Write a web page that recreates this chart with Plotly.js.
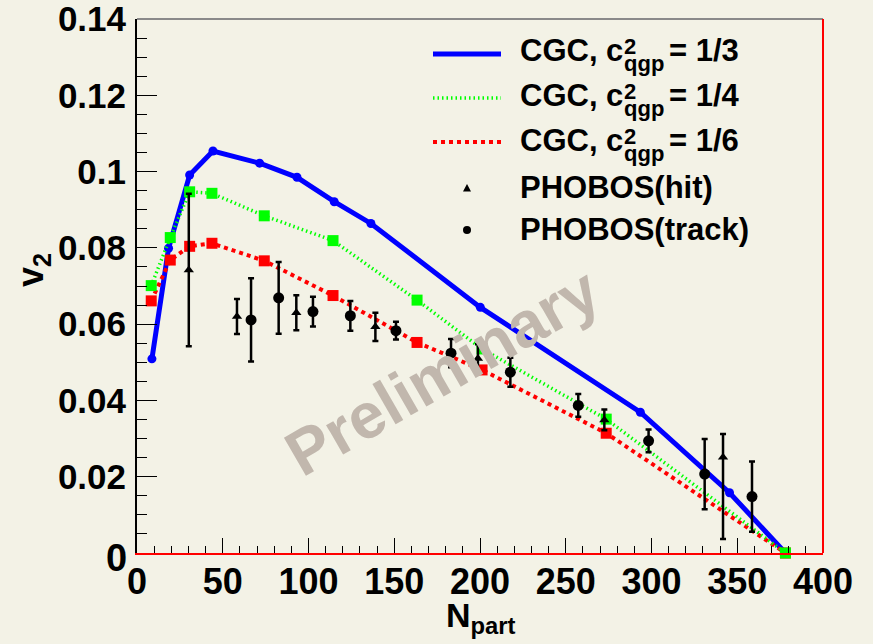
<!DOCTYPE html>
<html>
<head>
<meta charset="utf-8">
<script src="https://cdn.plot.ly/plotly-3.0.1.min.js"></script>
<style>
  html, body { margin: 0; padding: 0; background: #f3f2e6; }
  #chart { width: 873px; height: 644px; }
</style>
</head>
<body>
<div id="chart"></div>
<script>
// CGC hydro curves: elliptic flow v2 vs number of participants
const nThird   = [8.7, 18.4, 30.7, 44.3, 71.5, 93.3, 115, 136.4, 200.2, 293.5, 345.5, 378.1];
const v2Third  = [0.0509, 0.0799, 0.0991, 0.1054, 0.1022, 0.0985, 0.0921, 0.0864, 0.0644, 0.0369, 0.0158, 0];

const nQuarter  = [8.3, 19.4, 30.7, 43.7, 74.2, 114.3, 163.3, 201.2, 273.6, 378.1];
const v2Quarter = [0.0701, 0.0827, 0.0947, 0.0943, 0.0884, 0.0819, 0.0663, 0.0535, 0.0351, 0];

const nSixth   = [8.3, 19.4, 30.7, 43.7, 74.2, 114.3, 163.3, 201.2, 273.6, 378.1];
const v2Sixth  = [0.0661, 0.0768, 0.0804, 0.0812, 0.0766, 0.0675, 0.0552, 0.0480, 0.0314, 0];

// PHOBOS measurements
const nHit       = [30.2, 58.3, 92.9, 139, 198.8, 272.5, 341.7];
const v2Hit      = [0.0742, 0.0620, 0.0630, 0.0593, 0.0510, 0.0349, 0.0251];
const errHitUp   = [0.0200, 0.0046, 0.0046, 0.0037, 0.0037, 0.0027, 0.0061];
const errHitDown = [0.0200, 0.0046, 0.0046, 0.0037, 0.0037, 0.0027, 0.0214];

const nTrack   = [66.5, 82.6, 102.6, 124.4, 151, 183.1, 217.7, 257.3, 298.3, 331, 358.6];
const v2Track  = [0.0611, 0.0669, 0.0633, 0.0622, 0.0583, 0.0524, 0.0474, 0.0387, 0.0294, 0.0207, 0.0148];
const errTrack = [0.0109, 0.0094, 0.0039, 0.0039, 0.0023, 0.0037, 0.0038, 0.0030, 0.0030, 0.0092, 0.0092];

// Axis ticks
const xTickVals = [0, 50, 100, 150, 200, 250, 300, 350, 400];
const xTickText = ['0', '50', '100', '150', '200', '250', '300', '350', '400'];
const yTickVals = [0, 0.02, 0.04, 0.06, 0.08, 0.1, 0.12, 0.14];
const yTickText = ['0', '0.02', '0.04', '0.06', '0.08', '0.1', '0.12', '0.14'];

// Legend entries
const legendLabels = ['CGC, c', 'CGC, c', 'CGC, c', 'PHOBOS(hit)', 'PHOBOS(track)'];
const legendSup = ['2', '2', '2'];
const legendSub = ['qgp', 'qgp', 'qgp'];
const legendTail = ['= 1/3', '= 1/4', '= 1/6'];

const BG = '#f3f2e6';
const FONT = 'Liberation Sans, Arial, Helvetica, sans-serif';

// plot frame in pixels
const W = 873, H = 644;
const L = 137, R = 823, T = 19, B = 553;
const px = x => (x - L) / (R - L);
const py = y => (B - y) / (B - T);

const traces = [
  {
    x: nThird, y: v2Third, mode: 'lines+markers', type: 'scatter',
    line: {color: '#0000ff', width: 5},
    marker: {color: '#0000ff', size: 9, symbol: 'circle'},
    cliponaxis: false, showlegend: false
  },
  {
    x: nSixth, y: v2Sixth, mode: 'lines+markers', type: 'scatter',
    line: {color: '#ff0000', width: 4, dash: '4px,4px'},
    marker: {color: '#ff0000', size: 11, symbol: 'square'},
    cliponaxis: false, showlegend: false
  },
  {
    x: nQuarter, y: v2Quarter, mode: 'lines+markers', type: 'scatter',
    line: {color: '#00ff00', width: 3.5, dash: '1.5px,3px'},
    marker: {color: '#00ff00', size: 11, symbol: 'square'},
    cliponaxis: false, showlegend: false
  },
  {
    x: nHit, y: v2Hit, mode: 'markers', type: 'scatter',
    marker: {color: '#000', size: 9, symbol: 'triangle-up'},
    error_y: {type: 'data', symmetric: false, array: errHitUp, arrayminus: errHitDown,
              color: '#000', thickness: 2.5, width: 3},
    showlegend: false
  },
  {
    x: nTrack, y: v2Track, mode: 'markers', type: 'scatter',
    marker: {color: '#000', size: 11, symbol: 'circle'},
    error_y: {type: 'data', array: errTrack, color: '#000', thickness: 2.5, width: 3},
    showlegend: false
  }
];

const annotations = [];
const shapes = [];

// frame: top edge and right edge
shapes.push({type: 'line', xref: 'paper', yref: 'paper', x0: 0, x1: 1, y0: 1, y1: 1,
             line: {color: '#8a8a8a', width: 2}});
shapes.push({type: 'line', xref: 'paper', yref: 'paper', x0: 1, x1: 1, y0: 0, y1: 1,
             line: {color: '#ff0000', width: 2}});

// watermark
annotations.push({
  xref: 'paper', yref: 'paper', x: px(442), y: py(372),
  xanchor: 'center', yanchor: 'middle',
  text: 'Preliminary', showarrow: false, textangle: -30,
  font: {family: FONT, size: 64, color: '#c1b7ad', weight: 700}
});

// axis titles
annotations.push({
  xref: 'paper', yref: 'paper', x: px(33), y: py(270),
  xanchor: 'center', yanchor: 'middle',
  text: 'v<sub>2</sub>', showarrow: false, textangle: -90,
  font: {family: FONT, size: 36, color: '#000', weight: 700}
});
annotations.push({
  xref: 'paper', yref: 'paper', x: px(481), y: py(617),
  xanchor: 'center', yanchor: 'middle',
  text: 'N<sub>part</sub>', showarrow: false,
  font: {family: FONT, size: 34, color: '#000', weight: 700}
});

// larger zero label at the origin of the v2 axis
annotations.push({
  xref: 'paper', yref: 'paper', x: px(129), y: py(558),
  xanchor: 'right', yanchor: 'middle',
  text: yTickText[0], showarrow: false,
  font: {family: FONT, size: 38, color: '#000', weight: 700}
});

// legend
const rowY = [50, 95, 140, 187, 230];
const lineY = [54, 98, 142];
const lineStyles = [
  {color: '#0000ff', width: 5, dash: 'solid'},
  {color: '#00ff00', width: 3.5, dash: '1.5px,3px'},
  {color: '#ff0000', width: 4, dash: '4px,4px'}
];
const textFont = {family: FONT, size: 31, color: '#000', weight: 700};
const smallFont = {family: FONT, size: 22, color: '#000', weight: 700};
for (let i = 0; i < 3; i++) {
  shapes.push({type: 'line', xref: 'paper', yref: 'paper',
               x0: px(433), x1: px(501), y0: py(lineY[i]), y1: py(lineY[i]),
               line: lineStyles[i]});
  annotations.push({xref: 'paper', yref: 'paper', x: px(518), y: py(rowY[i]),
    xanchor: 'left', yanchor: 'middle', text: legendLabels[i], showarrow: false, font: textFont});
  annotations.push({xref: 'paper', yref: 'paper', x: px(622), y: py(rowY[i] - 4),
    xanchor: 'left', yanchor: 'middle', text: legendSup[i], showarrow: false, font: smallFont});
  annotations.push({xref: 'paper', yref: 'paper', x: px(622), y: py(rowY[i] + 14),
    xanchor: 'left', yanchor: 'middle', text: legendSub[i], showarrow: false, font: smallFont});
  annotations.push({xref: 'paper', yref: 'paper', x: px(667), y: py(rowY[i]),
    xanchor: 'left', yanchor: 'middle', text: legendTail[i], showarrow: false, font: textFont});
}
for (let i = 3; i < 5; i++) {
  annotations.push({xref: 'paper', yref: 'paper', x: px(518), y: py(rowY[i]),
    xanchor: 'left', yanchor: 'middle', text: legendLabels[i], showarrow: false, font: textFont});
}
// legend symbols: triangle and dot
const tx = 467, ty = 188;
shapes.push({type: 'path', xref: 'paper', yref: 'paper',
  path: `M ${px(tx - 4)} ${py(ty + 3.5)} L ${px(tx + 4)} ${py(ty + 3.5)} L ${px(tx)} ${py(ty - 4)} Z`,
  fillcolor: '#000', line: {width: 0}});
shapes.push({type: 'circle', xref: 'paper', yref: 'paper',
  x0: px(463), x1: px(471), y0: py(234), y1: py(226),
  fillcolor: '#000', line: {width: 0}});

const layout = {
  width: W, height: H,
  paper_bgcolor: BG, plot_bgcolor: BG,
  margin: {l: L, r: W - R, t: T, b: H - B, pad: 0},
  showlegend: false,
  xaxis: {
    range: [0, 400], tickvals: xTickVals, ticktext: xTickText,
    ticks: 'inside', ticklen: 15, tickwidth: 1, tickcolor: '#000',
    minor: {dtick: 10, ticks: 'inside', ticklen: 7, tickwidth: 1, tickcolor: '#000'},
    showline: true, linecolor: '#ff0000', linewidth: 2,
    showgrid: false, zeroline: false,
    ticklabelstandoff: -4,
    tickfont: {family: FONT, size: 36, color: '#000', weight: 700}
  },
  yaxis: {
    range: [0, 0.140001], tickvals: yTickVals.slice(1), ticktext: yTickText.slice(1),
    ticks: 'inside', ticklen: 20, tickwidth: 1, tickcolor: '#000',
    minor: {dtick: 0.005, ticks: 'inside', ticklen: 10, tickwidth: 1, tickcolor: '#000'},
    showline: true, linecolor: '#000', linewidth: 2,
    showgrid: false, zeroline: false,
    ticklabelstandoff: 2, ticklabeloverflow: 'allow',
    tickfont: {family: FONT, size: 35, color: '#000', weight: 700}
  },
  shapes: shapes,
  annotations: annotations
};

Plotly.newPlot('chart', traces, layout, {displayModeBar: false, staticPlot: true});
</script>
</body>
</html>
